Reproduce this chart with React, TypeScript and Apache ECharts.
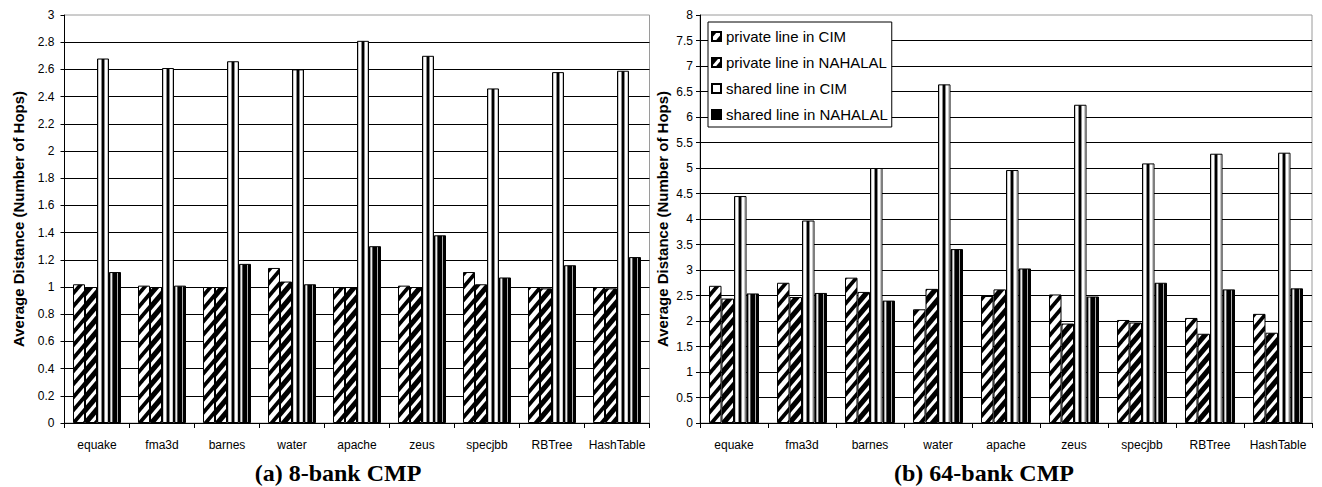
import React, { useEffect, useRef } from 'react';
import * as echarts from 'echarts';

const categories = ['equake', 'fma3d', 'barnes', 'water', 'apache', 'zeus', 'specjbb', 'RBTree', 'HashTable'];
const seriesNames = ['private line in CIM', 'private line in NAHALAL', 'shared line in CIM', 'shared line in NAHALAL'];
const panelTitles = ['(a) 8-bank CMP', '(b) 64-bank CMP'];
const yAxisName = 'Average Distance (Number of Hops)';

const bank8PrivateCIM = [1.02, 1.01, 1.0, 1.14, 1.0, 1.01, 1.11, 1.0, 1.0];
const bank8PrivateNAHALAL = [1.0, 1.0, 1.0, 1.04, 1.0, 1.0, 1.02, 0.99, 0.99];
const bank8SharedCIM = [2.68, 2.61, 2.66, 2.6, 2.81, 2.7, 2.46, 2.58, 2.59];
const bank8SharedNAHALAL = [1.11, 1.01, 1.17, 1.02, 1.3, 1.38, 1.07, 1.16, 1.22];

const bank64PrivateCIM = [2.69, 2.75, 2.85, 2.23, 2.49, 2.52, 2.02, 2.06, 2.14];
const bank64PrivateNAHALAL = [2.44, 2.47, 2.57, 2.63, 2.62, 1.95, 1.97, 1.75, 1.77];
const bank64SharedCIM = [4.45, 3.97, 5.0, 6.64, 4.96, 6.24, 5.09, 5.28, 5.3];
const bank64SharedNAHALAL = [2.54, 2.55, 2.4, 3.41, 3.03, 2.48, 2.75, 2.62, 2.64];

const SANS = '"Liberation Sans", Arial, Helvetica, sans-serif';
const SERIF = '"Liberation Serif", "Times New Roman", serif';

function diagPattern(frac: number) {
  const w = 11;
  const h = 13;
  const c = document.createElement('canvas');
  c.width = w;
  c.height = h;
  const ctx = c.getContext('2d')!;
  ctx.fillStyle = '#fff';
  ctx.fillRect(0, 0, w, h);
  ctx.fillStyle = '#000';
  for (let k = -2; k <= 1; k++) {
    ctx.beginPath();
    ctx.moveTo(k * w, h);
    ctx.lineTo(k * w + frac * w, h);
    ctx.lineTo(k * w + frac * w + w, 0);
    ctx.lineTo(k * w + w, 0);
    ctx.closePath();
    ctx.fill();
  }
  return { image: c, repeat: 'repeat', imageWidth: w, imageHeight: h };
}

function vertPattern(period: number, offset: number, bg: string, cols: [number, string][]) {
  const c = document.createElement('canvas');
  c.width = period;
  c.height = 2;
  const ctx = c.getContext('2d')!;
  ctx.fillStyle = bg;
  ctx.fillRect(0, 0, period, 2);
  cols.forEach(([dx, color]) => {
    const x = ((Math.round(offset + dx) % period) + period) % period;
    ctx.fillStyle = color;
    ctx.fillRect(x, 0, 1, 2);
  });
  return { image: c, repeat: 'repeat', imageWidth: period, imageHeight: 2 };
}

const sharedCIMCols: [number, string][] = [
  [1, '#c8c8c8'],
  [4, '#8a8a8a'],
  [5, '#000'],
  [6, '#000'],
  [7, '#8a8a8a'],
  [10, '#c8c8c8'],
];
const sharedNAHALALCols: [number, string][] = [
  [1, '#9a9a9a'],
  [2, '#eeeeee'],
  [3, '#555'],
  [8, '#aaaaaa'],
];

export default function App() {
  const ref = useRef<HTMLDivElement>(null);

  useEffect(() => {
    if (!ref.current) return;
    const chart = echarts.init(ref.current, null, { renderer: 'svg' });

    const panels = [
      { left: 64.5, width: 585, bw: 12, max: 3, interval: 0.2, nameGap: 39, labelMargin: 10, data: [bank8PrivateCIM, bank8PrivateNAHALAL, bank8SharedCIM, bank8SharedNAHALAL], titleX: 338 },
      { left: 700, width: 612, bw: 12.5, max: 8, interval: 0.5, nameGap: 30, labelMargin: 7, data: [bank64PrivateCIM, bank64PrivateNAHALAL, bank64SharedCIM, bank64SharedNAHALAL], titleX: 984 },
    ];

    const pPrivCIM = diagPattern(0.45);
    const pPrivNAH = diagPattern(0.62);

    const grid: any[] = [];
    const xAxis: any[] = [];
    const yAxis: any[] = [];
    const series: any[] = [];
    const title: any[] = [];

    panels.forEach((p, pi) => {
      const W = p.width / categories.length;
      const bar3Off = p.left + W / 2;
      const bar4Off = p.left + W / 2 + p.bw;
      const pSharedCIM = vertPattern(W, bar3Off % W, '#fff', sharedCIMCols);
      const pSharedNAH = vertPattern(W, bar4Off % W, '#000', sharedNAHALALCols);
      const colors = [pPrivCIM, pPrivNAH, pSharedCIM, pSharedNAH];

      grid.push({
        left: p.left,
        top: 15,
        width: p.width,
        height: 408,
        show: true,
        borderColor: '#9a9a9a',
        borderWidth: 1,
        backgroundColor: 'transparent',
        containLabel: false,
        outerBoundsMode: 'none',
      });
      xAxis.push({
        gridIndex: pi,
        type: 'category',
        data: categories,
        axisLine: { show: true, lineStyle: { color: '#000', width: 1 } },
        axisTick: { show: true, length: 5, interval: 0, alignWithLabel: false, lineStyle: { color: '#000' } },
        axisLabel: { color: '#000', fontSize: 12, fontFamily: SANS, margin: 16, interval: 0 },
        splitLine: { show: false },
      });
      yAxis.push({
        gridIndex: pi,
        type: 'value',
        min: 0,
        max: p.max,
        interval: p.interval,
        name: yAxisName,
        nameLocation: 'middle',
        nameGap: p.nameGap,
        nameRotate: 90,
        nameTextStyle: { color: '#000', fontSize: 15, fontWeight: 'bold', fontFamily: SANS },
        axisLine: { show: true, lineStyle: { color: '#000', width: 1 } },
        axisTick: { show: true, length: 4, lineStyle: { color: '#000' } },
        axisLabel: { color: '#000', fontSize: 12, fontFamily: SANS, margin: p.labelMargin },
        splitLine: { show: true, showMaxLine: false, lineStyle: { color: '#000', width: 1 } },
      });
      seriesNames.forEach((name, si) => {
        series.push({
          type: 'bar',
          name,
          xAxisIndex: pi,
          yAxisIndex: pi,
          data: p.data[si],
          barWidth: p.bw,
          barGap: '0%',
          itemStyle: { color: colors[si], borderColor: '#000', borderWidth: 1 },
          emphasis: { disabled: true },
        });
      });
      title.push({
        text: panelTitles[pi],
        left: p.titleX,
        top: 461,
        textAlign: 'center',
        padding: 0,
        textStyle: { fontFamily: SERIF, fontWeight: 'bold', fontSize: 24, color: '#000' },
      });
    });

    chart.setOption({
      animation: false,
      backgroundColor: '#fff',
      title,
      legend: {
        data: seriesNames,
        orient: 'vertical',
        left: 708,
        top: 22,
        padding: [7, 4, 5, 3],
        itemWidth: 9,
        itemHeight: 9,
        itemGap: 11,
        icon: 'rect',
        backgroundColor: '#fff',
        borderColor: '#000',
        borderWidth: 1,
        borderRadius: 0,
        selectedMode: false,
        textStyle: { color: '#000', fontSize: 15, fontFamily: SANS },
      },
      grid,
      xAxis,
      yAxis,
      series,
    });

    return () => chart.dispose();
  }, []);

  return <div ref={ref} style={{ position: 'absolute', left: 0, top: 0, width: 1322, height: 487 }} />;
}
